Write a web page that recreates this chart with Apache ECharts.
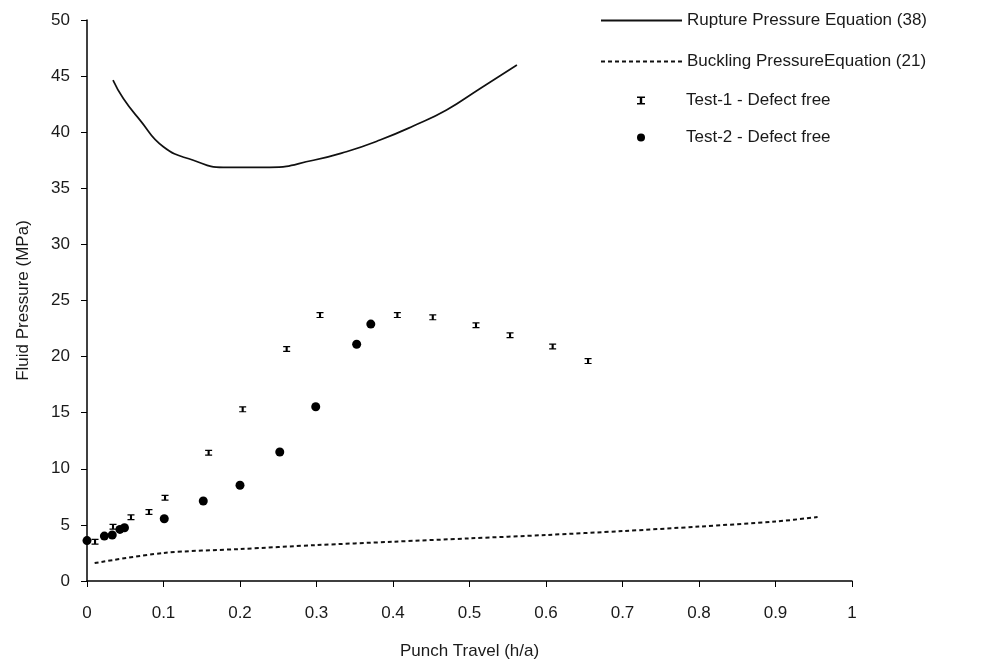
<!DOCTYPE html>
<html>
<head>
<meta charset="utf-8">
<script src="https://cdn.jsdelivr.net/npm/echarts@6/dist/echarts.min.js"></script>
<style>html,body{margin:0;padding:0;background:#fff}#c{width:989px;height:668px}</style>
</head>
<body>
<div id="c"></div>
<script>
const xTicks = [0,0.1,0.2,0.3,0.4,0.5,0.6,0.7,0.8,0.9,1];
const ruptureX = [0.034,0.0475,0.069,0.0998,0.139,0.178,0.239,0.296,0.339,0.383,0.4265,0.47,0.514,0.562];
const ruptureY = [44.65,43.0,41.1,38.7,37.5,36.87,36.87,37.5,38.26,39.3,40.55,41.98,43.9,45.99];
const bucklingX = [0.01,0.1,0.2,0.3,0.4,0.5,0.6,0.7,0.8,0.9,0.955];
const bucklingY = [1.6,2.5,2.85,3.2,3.5,3.8,4.1,4.45,4.85,5.3,5.7];
const test1X = [0.0105,0.034,0.0575,0.081,0.102,0.159,0.2035,0.261,0.3046,0.4057,0.452,0.5085,0.553,0.6087,0.655];
const test1Y = [3.5,4.84,5.68,6.15,7.42,11.43,15.3,20.68,23.7,23.7,23.5,22.8,21.9,20.9,19.6];
const test2X = [0,0.0227,0.033,0.043,0.049,0.101,0.152,0.2,0.252,0.299,0.3525,0.371];
const test2Y = [3.6,4.0,4.1,4.6,4.75,5.55,7.13,8.53,11.5,15.53,21.1,22.9];
const names = ['Rupture Pressure Equation (38)','Buckling PressureEquation (21)','Test-1 - Defect free','Test-2 - Defect free'];

const zip = (xs, ys) => xs.map((x, i) => [x, ys[i]]);
const font = '"Liberation Sans", Arial, sans-serif';
const ibeam = 'path://M0,0H10V2H6.5V8H10V10H0V8H3.5V2H0Z';

const chart = echarts.init(document.getElementById('c'), null, {renderer: 'canvas'});
chart.setOption({
  backgroundColor: '#fff',
  animation: false,
  textStyle: {fontFamily: font, color: '#1a1a1a'},
  grid: {left: 87, right: 137, top: 20, bottom: 87},
  legend: [
    {
      data: [names[0], names[1]], orient: 'vertical', left: 600, top: 12, padding: 0,
      itemWidth: 81, itemHeight: 14, itemGap: 24,
      itemStyle: {color: 'rgba(0,0,0,0)', borderWidth: 0, opacity: 0},
      textStyle: {fontSize: 17, color: '#1a1a1a', fontFamily: font}
    },
    {
      data: [{name: names[2], icon: ibeam}, {name: names[3], icon: 'circle'}],
      orient: 'vertical', left: 637, top: 92, padding: 0,
      itemWidth: 8, itemHeight: 9, itemGap: 20,
      itemStyle: {opacity: 1},
      textStyle: {fontSize: 17, color: '#1a1a1a', fontFamily: font, padding: [0, 0, 0, 36]}
    }
  ],
  xAxis: {
    type: 'value', min: 0, max: 1, interval: 0.1,
    name: 'Punch Travel (h/a)', nameLocation: 'middle', nameGap: 62,
    nameTextStyle: {fontSize: 17, color: '#1a1a1a'},
    axisLine: {lineStyle: {color: '#000', width: 1.5}},
    axisTick: {show: true, length: 6, lineStyle: {color: '#000'}},
    axisLabel: {fontSize: 17, margin: 24, color: '#1a1a1a', fontFamily: '"Liberation Sans Narrow", "Liberation Sans", Arial, sans-serif',
      formatter: v => String(Math.round(v * 10) / 10)},
    splitLine: {show: false}
  },
  yAxis: {
    type: 'value', min: 0, max: 50, interval: 5,
    name: 'Fluid Pressure (MPa)', nameLocation: 'middle', nameGap: 55,
    nameTextStyle: {fontSize: 17, color: '#1a1a1a'},
    axisLine: {show: true, lineStyle: {color: '#000', width: 1.5}},
    axisTick: {show: true, length: 6, lineStyle: {color: '#000'}},
    axisLabel: {fontSize: 17, margin: 17, color: '#1a1a1a'},
    splitLine: {show: false}
  },
  series: [
    {
      name: names[0], type: 'line', data: zip(ruptureX, ruptureY),
      smooth: 0.5, showSymbol: false, symbol: 'none',
      lineStyle: {color: '#111', width: 1.7}, itemStyle: {color: '#111'}
    },
    {
      name: names[1], type: 'line', data: zip(bucklingX, bucklingY),
      smooth: 0.3, showSymbol: false, symbol: 'none',
      lineStyle: {color: '#111', width: 2, type: [4, 3]}, itemStyle: {color: '#111'}
    },
    {
      name: names[2], type: 'scatter', data: zip(test1X, test1Y),
      symbol: ibeam, symbolSize: [7, 6], itemStyle: {color: '#000', opacity: 1}
    },
    {
      name: names[3], type: 'scatter', data: zip(test2X, test2Y),
      symbol: 'circle', symbolSize: 9, itemStyle: {color: '#000', opacity: 1}
    }
  ]
});
</script>
</body>
</html>
